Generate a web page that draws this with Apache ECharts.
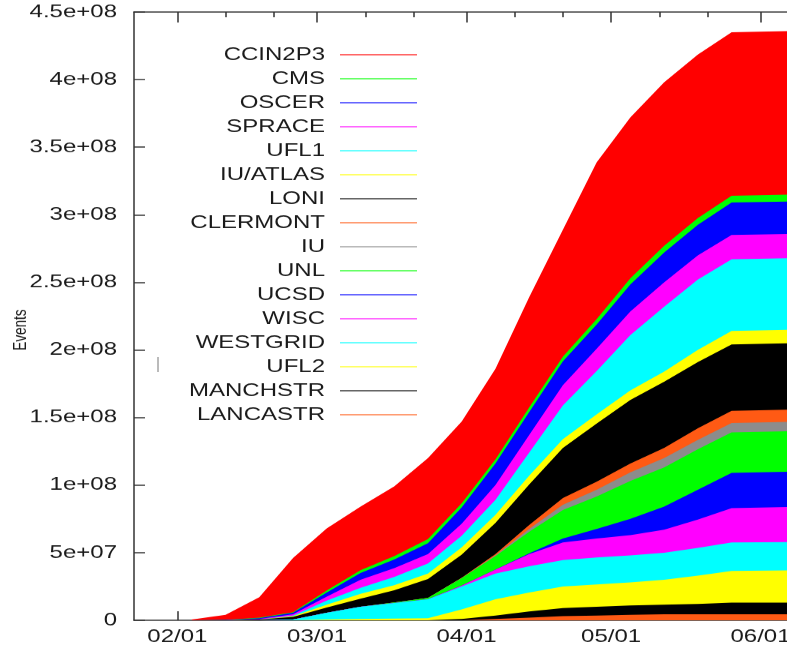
<!DOCTYPE html>
<html>
<head>
<meta charset="utf-8">
<title>Events</title>
<script src="https://cdn.jsdelivr.net/npm/echarts@6/dist/echarts.min.js"></script>
<style>
  html, body { margin: 0; padding: 0; overflow: hidden; background: #fff; }
  /* the source plot is squashed vertically, so draw it tall and squash it the same way */
  #main { width: 787px; height: 867px; transform: scaleY(0.75); transform-origin: 0 0; }
</style>
</head>
<body>
<div id="main"></div>
<script>
// sample dates (weekly)
const dates = ['2008-02-04','2008-02-11','2008-02-18','2008-02-25','2008-03-03','2008-03-10','2008-03-17','2008-03-24','2008-03-31',
  '2008-04-07','2008-04-14','2008-04-21','2008-04-28','2008-05-05','2008-05-12','2008-05-19','2008-05-26','2008-06-09'];

// cumulative events per site, millions
const ccin2p3  = [0.5, 3.7, 15, 40, 46, 47, 51.5, 60, 60.5, 67, 81.5, 94, 116, 119, 121, 121, 121, 121];
const cms      = [0, 0, 0.5, 0.5, 1.5, 2, 2.5, 3, 3, 3, 3.5, 3.5, 4, 4.5, 5, 5, 5, 5];
const oscer    = [0, 0.3, 0.5, 1, 3, 5, 6.5, 8, 12, 16, 17, 17.5, 18, 20, 22, 22.5, 24, 24];
const sprace   = [0, 0, 0.5, 1, 3, 6, 6.5, 7, 9, 11, 13, 15, 16.5, 17.5, 18, 18, 18, 18];
const ufl1     = [0, 0, 0, 0.5, 3, 4.5, 6, 7.5, 8.5, 11, 17, 25, 32, 41, 48, 52, 53, 53];
const iuAtlas  = [0, 0, 0, 0.5, 2, 3.5, 3.8, 4, 5.5, 6, 6.5, 6.5, 6.8, 7, 7.5, 9, 10, 10];
const loni     = [0, 0, 0.5, 2, 4, 6, 9, 14, 17, 23, 30, 37, 43, 47, 49, 49, 49, 49];
const clermont = [0, 0, 0, 0, 0, 0, 0, 0, 0.3, 1, 3, 5, 6, 6.5, 7.5, 8.5, 9, 9];
const iu       = [0, 0, 0, 0, 0, 0, 0, 0, 0, 0.5, 2, 4, 5, 6.5, 7, 7, 7, 7];
const unl      = [0, 0, 0, 0, 0, 0, 0.5, 1, 5.5, 10, 16, 21, 24, 28, 29, 30, 30, 30];
const ucsd     = [0, 0, 0, 0, 0, 0, 0, 0, 0, 0, 0.5, 3, 7, 12, 17, 22, 26, 26];
const wisc     = [0, 0, 0, 0, 0, 0, 0, 0, 0.7, 3, 9, 13, 14, 15, 17, 21, 25.5, 26];
const westgrid = [0, 0, 0, 0.5, 5, 9, 11.5, 14, 17, 19, 19.5, 19.5, 20, 20, 20, 20.5, 21, 21];
const ufl2     = [0, 0, 0, 0, 0.5, 1, 1.2, 1.5, 7, 12, 14, 16, 16.5, 17, 18.5, 21, 23.5, 24];
const manchstr = [0, 0, 0, 0, 0, 0, 0, 0, 1, 2.5, 4.5, 6, 6.5, 7, 7, 7.5, 8.5, 8.5];
const lancastr = [0, 0, 0, 0, 0, 0, 0, 0, 0, 1, 2, 3, 3.5, 4, 4.5, 4.5, 4.5, 4.5];

// legend order = top of the stack first
const siteNames = ['CCIN2P3','CMS','OSCER','SPRACE','UFL1','IU/ATLAS','LONI','CLERMONT','IU','UNL','UCSD','WISC','WESTGRID','UFL2','MANCHSTR','LANCASTR'];
const siteValues = [ccin2p3, cms, oscer, sprace, ufl1, iuAtlas, loni, clermont, iu, unl, ucsd, wisc, westgrid, ufl2, manchstr, lancastr];
const siteColors = ['#ff0000','#00ff00','#0000ff','#ff00ff','#00ffff','#ffff00','#000000','#ff5a14',
  '#8c8c8c','#00ff00','#0000ff','#ff00ff','#00ffff','#ffff00','#000000','#ff5a14'];

const monthTicks = ['2008-02-01','2008-03-01','2008-04-01','2008-05-01','2008-06-01'];
const minorTicks = ['2008-02-11','2008-02-21','2008-03-11','2008-03-21','2008-04-11','2008-04-21','2008-05-11','2008-05-21'];

const font = "'Liberation Sans', Arial, sans-serif";
const ts = (s) => Date.parse(s + 'T00:00:00Z');
const pad2 = (n) => String(n).padStart(2, '0');
const fmtDate = (v) => {
  let d = new Date(v);
  return pad2(d.getUTCMonth() + 1) + '/' + pad2(d.getUTCDate());
};
const fmtExp = (v) => v === 0 ? '0' : v.toExponential().replace(/e\+(\d)$/, 'e+0$1');

const frame = { color: '#333', width: 1.5 };
// the plot runs off the right edge of the picture, a few days past 06/01
const xMin = ts('2008-01-23');
const xMax = Date.parse('2008-06-06T12:00:00Z');

// each band is drawn as the running total of itself and every site below it,
// biggest total first so the smaller ones paint over it (like gnuplot filledcurves)
let series = siteNames.map((name, i) => ({
  name: name,
  type: 'line',
  showSymbol: false,
  symbol: 'none',
  clip: true,
  color: siteColors[i],
  itemStyle: { color: siteColors[i] },
  lineStyle: { width: 0 },
  areaStyle: { color: siteColors[i], opacity: 1, origin: 'start' },
  data: dates.map((d, k) => {
    let top = 0;
    for (let j = i; j < siteValues.length; j++) top += siteValues[j][k];
    return [ts(d), top * 1e6];
  })
}));

// x is a plain value axis over timestamps so the month ticks can be placed by hand
const dateAxis = (position, ticks, tickLen, showLine, showLabel) => ({
  type: 'value', position: position, min: xMin, max: xMax, scale: true,
  axisLine: { show: showLine, onZero: false, lineStyle: frame },
  axisTick: { show: true, inside: true, length: tickLen, customValues: ticks.map(ts), lineStyle: frame },
  axisLabel: {
    show: showLabel, customValues: ticks.map(ts), formatter: fmtDate,
    fontSize: 24, fontFamily: font, color: '#1a1a1a', margin: 10
  },
  splitLine: { show: false }
});

let option = {
  animation: false,
  backgroundColor: '#fff',
  // keep the grid where it is even though 06/01 gets cut at the edge
  grid: { left: 134, right: 0, top: 16, bottom: 40, outerBoundsMode: 'none' },
  legend: {
    orient: 'vertical',
    left: 165,
    top: 61,
    padding: 0,
    itemGap: 8,
    itemWidth: 77,
    itemHeight: 2,
    icon: 'rect',
    align: 'right',
    selectedMode: false,
    data: siteNames,
    itemStyle: { opacity: 0.6 },
    formatter: (name) => '{n|' + name + '}',
    textStyle: {
      rich: {
        n: { width: 160, align: 'right', padding: [0, 10, 0, 0], fontSize: 24, lineHeight: 24, fontFamily: font, color: '#1a1a1a' }
      }
    }
  },
  xAxis: [
    dateAxis('bottom', monthTicks, 12, true, true),
    dateAxis('top', monthTicks, 14, true, false),
    dateAxis('top', minorTicks, 7, false, false)
  ],
  yAxis: {
    type: 'value', min: 0, max: 4.5e8, interval: 5e7,
    axisLine: { show: true, onZero: false, lineStyle: frame },
    axisTick: { show: true, inside: true, length: 11, lineStyle: frame },
    axisLabel: { formatter: fmtExp, fontSize: 24, fontFamily: font, color: '#1a1a1a', margin: 17 },
    splitLine: { show: false }
  },
  graphic: [
    {
      type: 'text', x: 21, y: 440, rotation: Math.PI / 2,
      style: { text: 'Events', fontSize: 18, fontFamily: font, fill: '#1a1a1a', align: 'center', verticalAlign: 'middle' }
    },
    {
      type: 'line', shape: { x1: 158, y1: 476, x2: 158, y2: 496 },
      style: { stroke: '#777', lineWidth: 1 }
    }
  ],
  series: series
};

let myChart = echarts.init(document.getElementById('main'));
myChart.setOption(option);
</script>
</body>
</html>
